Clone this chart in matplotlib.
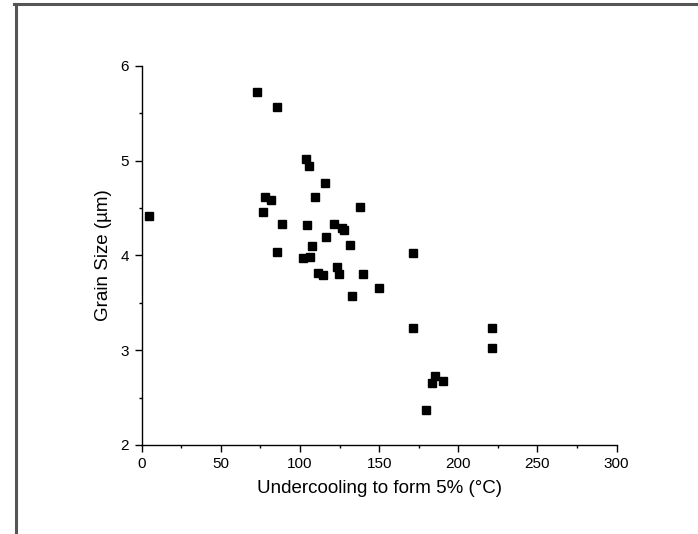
import matplotlib
matplotlib.use("Agg")
import matplotlib.pyplot as plt
from matplotlib.lines import Line2D
from matplotlib.ticker import MultipleLocator

plt.rcParams['font.family'] = ['Liberation Sans', 'DejaVu Sans']

# undercooling needed to form 5% (degC) and measured grain size (um)
undercooling = [4.8, 73.0, 85.7, 104.0, 105.9, 116.0, 77.9, 81.9, 109.7, 76.8,
                88.8, 104.4, 121.7, 126.3, 128.0, 116.6, 107.8, 85.7, 102.1, 106.1,
                111.6, 114.3, 123.2, 124.8, 138.1, 131.8, 171.6, 140.0, 150.1, 133.0,
                171.6, 221.5, 221.5, 185.5, 183.6, 190.5, 179.8]
grain_size = [4.42, 5.72, 5.56, 5.015, 4.94, 4.765, 4.61, 4.58, 4.62, 4.46,
              4.33, 4.32, 4.33, 4.29, 4.27, 4.19, 4.10, 4.035, 3.968, 3.98,
              3.815, 3.797, 3.875, 3.80, 4.51, 4.11, 4.025, 3.80, 3.657, 3.576,
              3.236, 3.236, 3.025, 2.726, 2.657, 2.68, 2.37]

fig = plt.figure(figsize=(6.98, 5.34), dpi=100)
ax = fig.add_axes([0.203, 0.1667, 0.6804, 0.7103])

ax.plot(undercooling, grain_size, linestyle='none', marker='s',
        markersize=6, color='black')

ax.set_xlim(0, 300)
ax.set_ylim(2, 6)
ax.xaxis.set_major_locator(MultipleLocator(50))
ax.xaxis.set_minor_locator(MultipleLocator(25))
ax.yaxis.set_major_locator(MultipleLocator(1))
ax.yaxis.set_minor_locator(MultipleLocator(0.5))

for side in ('top', 'right'):
    ax.spines[side].set_visible(False)
for side in ('left', 'bottom'):
    ax.spines[side].set_linewidth(1.0)

ax.tick_params(which='major', direction='out', length=5, width=1.0,
               labelsize=11, pad=4)
ax.tick_params(which='minor', direction='out', length=2.5, width=1.0)

ax.set_xlabel('Undercooling to form 5% (°C)', fontsize=13.5, labelpad=6)
ax.set_ylabel('Grain Size (µm)', fontsize=13.5, labelpad=6)

# grey frame along the top and left edges
w, h = fig.get_size_inches() * fig.dpi
fig.add_artist(Line2D([15.5 / w, 15.5 / w], [0, 1 - 3.5 / h],
                      transform=fig.transFigure, color='#555555', linewidth=2.2))
fig.add_artist(Line2D([14 / w, 1], [1 - 3.5 / h, 1 - 3.5 / h],
                      transform=fig.transFigure, color='#555555', linewidth=2.2))

fig.savefig('out.png', dpi=100)
